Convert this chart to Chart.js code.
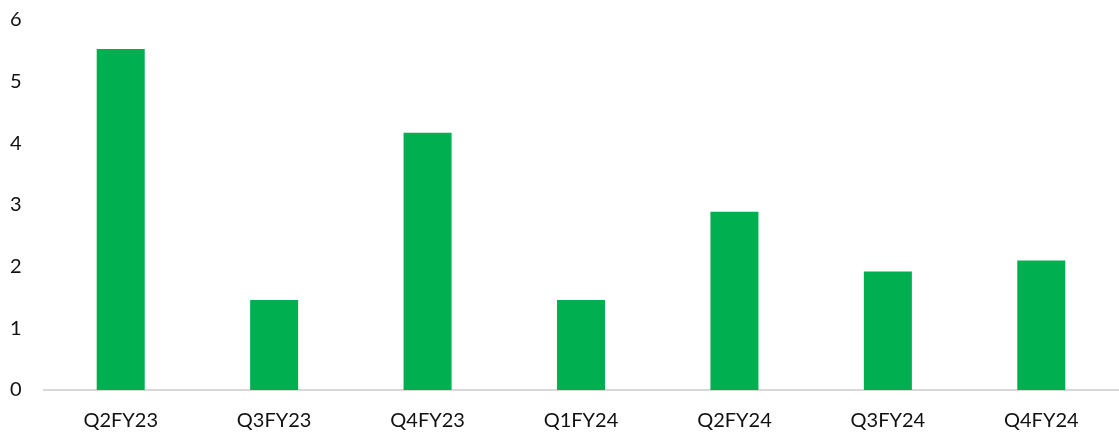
<!DOCTYPE html>
<html>
<head>
<meta charset="utf-8">
<script src="https://cdn.jsdelivr.net/npm/chart.js@4"></script>
<style>
html,body{margin:0;padding:0;background:#fff;}
#wrap{width:1119px;height:434px;position:relative;}
</style>
</head>
<body>
<div id="wrap"><canvas id="c" width="1119" height="434"></canvas></div>
<script>
const categories = ["Q2FY23","Q3FY23","Q4FY23","Q1FY24","Q2FY24","Q3FY24","Q4FY24"];
const values = [5.53, 1.46, 4.17, 1.46, 2.89, 1.92, 2.10];
const yTicks = [0,1,2,3,4,5,6];

new Chart(document.getElementById('c'), {
  type: 'bar',
  data: {
    labels: categories,
    datasets: [{
      data: values,
      backgroundColor: '#00B050',
      borderWidth: 0,
      barPercentage: 0.313,
      categoryPercentage: 1.0
    }]
  },
  options: {
    responsive: false,
    animation: false,
    layout: { padding: { top: 20, right: 1, left: 10, bottom: 0 } },
    plugins: { legend: { display: false }, tooltip: { enabled: false } },
    scales: {
      x: {
        grid: { display: false, drawTicks: false },
        border: { display: true, color: '#d9d9d9', width: 2 },
        ticks: { color: '#111', font: { family: 'Lato, "Open Sans", sans-serif', size: 20 }, padding: 19, maxRotation: 0 },
        afterFit(s) { s.height = 44; }
      },
      y: {
        min: 0, max: 6,
        afterBuildTicks(s) { s.ticks = yTicks.map(v => ({ value: v })); },
        grid: { display: false, drawTicks: false },
        border: { display: false },
        ticks: { color: '#111', font: { family: 'Lato, "Open Sans", sans-serif', size: 20 }, padding: 0, crossAlign: 'far' },
        afterFit(s) { s.width = 34; }
      }
    }
  }
});
</script>
</body>
</html>
